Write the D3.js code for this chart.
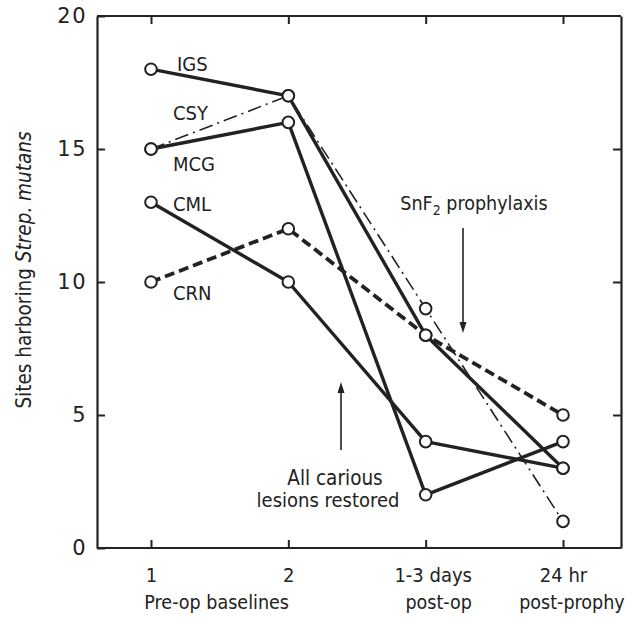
<!DOCTYPE html>
<meta charset="utf-8">
<style>
  body { margin: 0; background: #fff; }
  text { fill: #222; }
</style>
<body>
<script src="https://cdn.jsdelivr.net/npm/d3@7"></script>
<script>

// data
var categories = ["1", "2", "1-3 days", "24 hr"];
var subLabels = ["", "", "post-op", "post-prophy"];
var yTicks = [0, 5, 10, 15, 20];

var names = ["IGS", "CSY", "MCG", "CML", "CRN"];
var IGS = [18, 17, 8, 3];
var CSY = [15, 17, 9, 1];
var MCG = [15, 16, 2, 4];
var CML = [13, 10, 4, 3];
var CRN = [10, 12, 8, 5];

var series = [
  {name: "CSY", values: CSY, kind: "dashdot"},
  {name: "CML", values: CML, kind: "solid"},
  {name: "MCG", values: MCG, kind: "solid"},
  {name: "IGS", values: IGS, kind: "solid"},
  {name: "CRN", values: CRN, kind: "dashed"}
];

// where each name sits next to its first point (in data units)
var labelAt = {IGS: 18.2, CSY: 16.35, MCG: 14.45, CML: 12.95, CRN: 9.6};

var ink = "#222",
    narrow = "'Liberation Sans Narrow', 'DejaVu Sans Condensed', sans-serif";

var svg = d3.select("body").append("svg")
    .attr("width", 633)
    .attr("height", 620);

var pLeft = 97, pRight = 621, pTop = 16, pBottom = 548;

var x = d3.scalePoint()
    .domain(categories)
    .range([151, 563]);

var y = d3.scaleLinear()
    .domain([0, 20])
    .range([pBottom, pTop]);

// frame with inward ticks on all four sides
var gl = svg.append("g").attr("transform", "translate(" + pLeft + ",0)")
    .call(d3.axisLeft(y).tickValues(yTicks).tickSize(-8).tickPadding(10).tickSizeOuter(0));
var gr = svg.append("g").attr("transform", "translate(" + pRight + ",0)")
    .call(d3.axisRight(y).tickValues([5, 10, 15]).tickSize(-8).tickFormat("").tickSizeOuter(0));
var gt = svg.append("g").attr("transform", "translate(0," + pTop + ")")
    .call(d3.axisTop(x).tickSize(-8).tickFormat("").tickSizeOuter(0));
var gb = svg.append("g").attr("transform", "translate(0," + pBottom + ")")
    .call(d3.axisBottom(x).tickSize(-8).tickPadding(20).tickSizeOuter(0));

[gl, gr, gt, gb].forEach(function(g) {
  g.select(".domain").attr("stroke", ink).attr("stroke-width", 2.2);
  g.selectAll(".tick line").attr("stroke", ink).attr("stroke-width", 2);
});
gt.select(".domain").attr("d", "M" + pLeft + ",0H" + pRight);
gb.select(".domain").attr("d", "M" + pLeft + ",0H" + pRight);

gl.selectAll(".tick text")
    .attr("font-family", "'DejaVu Sans', sans-serif")
    .attr("font-size", 21)
    .attr("letter-spacing", 1.5)
    .attr("fill", ink);

gb.selectAll(".tick text")
    .attr("font-family", narrow)
    .attr("font-size", 20)
    .attr("fill", ink)
    .attr("dx", function(d, i) { return i == 2 ? 7 : 0; });

// second line of the x labels
svg.selectAll("text.sub")
    .data(categories.slice(2))
  .enter().append("text")
    .attr("class", "sub")
    .attr("x", function(d, i) { return x(d) + (i == 0 ? 13 : 9); })
    .attr("y", 609)
    .attr("text-anchor", "middle")
    .attr("font-family", narrow)
    .attr("font-size", 19.5)
    .text(function(d, i) { return subLabels[i + 2]; });

svg.append("text")
    .attr("x", (x(categories[0]) + x(categories[1])) / 2 - 3)
    .attr("y", 609)
    .attr("text-anchor", "middle")
    .attr("font-family", narrow)
    .attr("font-size", 19.5)
    .text("Pre-op baselines");

// y axis title
var yt = svg.append("text")
    .attr("transform", "translate(31," + 270 + ") rotate(-90)")
    .attr("text-anchor", "middle")
    .attr("font-family", narrow)
    .attr("font-size", 20.5);
yt.append("tspan").text("Sites harboring ");
yt.append("tspan").attr("font-style", "italic").text("Strep. mutans");

// lines
var line = d3.line()
    .x(function(d, i) { return x(categories[i]); })
    .y(function(d) { return y(d); });

svg.selectAll("path.series")
    .data(series)
  .enter().append("path")
    .attr("class", "series")
    .attr("d", function(d) { return line(d.values); })
    .attr("fill", "none")
    .attr("stroke", ink)
    .attr("stroke-linejoin", "round")
    .attr("stroke-width", function(d) { return d.kind == "dashdot" ? 1.6 : d.kind == "dashed" ? 3.8 : 3.4; })
    .attr("stroke-dasharray", function(d) {
      return d.kind == "dashdot" ? "14,5,2,5" : d.kind == "dashed" ? "10,5" : null;
    });

// open circles
var pts = [];
series.forEach(function(s) {
  s.values.forEach(function(v, i) { pts.push({c: categories[i], v: v}); });
});

svg.selectAll("circle.pt")
    .data(pts)
  .enter().append("circle")
    .attr("class", "pt")
    .attr("cx", function(d) { return x(d.c); })
    .attr("cy", function(d) { return y(d.v); })
    .attr("r", 5.8)
    .attr("fill", "#fff")
    .attr("stroke", ink)
    .attr("stroke-width", 2);

// series names
svg.selectAll("text.name")
    .data(names)
  .enter().append("text")
    .attr("class", "name")
    .attr("x", function(d) { return x(categories[0]) + (d == "IGS" ? 26 : 22); })
    .attr("y", function(d) { return y(labelAt[d]); })
    .attr("dy", "0.36em")
    .attr("font-family", narrow)
    .attr("font-size", 20)
    .text(function(d) { return d; });

// annotations
var snf = svg.append("text")
    .attr("x", 474)
    .attr("y", 210)
    .attr("text-anchor", "middle")
    .attr("font-family", narrow)
    .attr("font-size", 19.5);
snf.append("tspan").text("SnF");
snf.append("tspan").attr("font-size", 14).attr("dy", 5).text("2");
snf.append("tspan").attr("dy", -5).text(" prophylaxis");

function arrow(xp, y0, y1) {
  var dir = y1 > y0 ? 1 : -1;
  svg.append("line")
      .attr("x1", xp).attr("x2", xp)
      .attr("y1", y0).attr("y2", y1 - dir * 6)
      .attr("stroke", ink).attr("stroke-width", 1.6);
  svg.append("path")
      .attr("d", "M" + (xp - 3.5) + "," + (y1 - dir * 11) + "L" + xp + "," + y1 + "L" + (xp + 3.5) + "," + (y1 - dir * 11) + "Z")
      .attr("fill", ink);
}
arrow(463, 228, 333);
arrow(341, 450, 382);

svg.append("text")
    .attr("x", 335)
    .attr("y", 485)
    .attr("text-anchor", "middle")
    .attr("font-family", narrow)
    .attr("font-size", 20.5)
    .text("All carious");
svg.append("text")
    .attr("x", 328)
    .attr("y", 507)
    .attr("text-anchor", "middle")
    .attr("font-family", narrow)
    .attr("font-size", 20)
    .text("lesions restored");

</script>
